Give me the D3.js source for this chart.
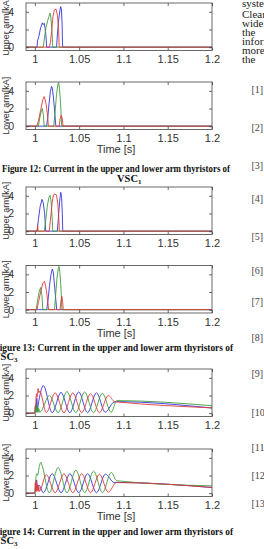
<!DOCTYPE html>
<html>
<head>
<meta charset="utf-8">
<script src="https://cdn.jsdelivr.net/npm/d3@7/dist/d3.min.js"></script>
<style>
  body { margin: 0; background: #fff; overflow: hidden; }
  svg { display: block; }
</style>
</head>
<body>
<div id="page"></div>
<script>
// axis ticks
const xTicks = [1, 1.05, 1.1, 1.15, 1.2];
const xTickLabels = ["1", "1.05", "1.1", "1.15", "1.2"];
const yTicks = [0, 2, 4];
const yTickLabels = ["0", "2", "4"];

// Figure 12 - VSC1 (time [s], current [kA])
const up1Blue = [[0.99,0],[1.0025,0],[1.003,0.7],[1.0045,1.2],[1.0065,2.2],[1.0085,2.75],[1.0095,2.55],[1.0105,2.7],[1.0115,2.2],[1.0127,1.1],[1.0133,0],[1.0245,0],[1.0255,1.5],[1.027,3.2],[1.0284,4.2],[1.0292,4.6],[1.03,4.2],[1.0308,2.5],[1.0312,0.5],[1.0315,0],[1.2,0]];
const up1Green = [[0.99,0],[1.0095,0],[1.0105,0.8],[1.0125,2.2],[1.0145,3.0],[1.016,3.5],[1.0171,3.85],[1.018,3.4],[1.0192,2.0],[1.02,0.5],[1.0203,0],[1.2,0]];
const up1Red = [[0.99,0],[1.0165,0],[1.0175,0.5],[1.019,1.8],[1.0205,3.5],[1.022,4.2],[1.024,4.3],[1.0255,3.6],[1.0268,2.0],[1.0275,0],[1.2,0]];
const lo1Blue = [[0.99,0],[1.0132,0],[1.0145,0.9],[1.016,2.5],[1.0175,3.9],[1.0188,4.5],[1.0198,4.3],[1.021,3.2],[1.0225,1.5],[1.0237,0],[1.2,0]];
const lo1Green = [[0.99,0],[1.004,0],[1.0055,0.9],[1.007,1.6],[1.0085,2.0],[1.0097,1.2],[1.0105,0],[1.0214,0],[1.0228,1.6],[1.0245,3.6],[1.026,4.7],[1.0268,4.95],[1.0278,4.3],[1.029,2.6],[1.0298,1.0],[1.0303,0],[1.2,0]];
const lo1Red = [[0.99,0],[1.0021,0],[1.004,0.6],[1.0065,1.8],[1.009,3.0],[1.0105,3.35],[1.0113,3.1],[1.0127,2.5],[1.0145,1.1],[1.0152,0],[1.0275,0],[1.0285,0.8],[1.0298,1.25],[1.031,0.8],[1.0318,0],[1.2,0]];

// Figure 13 - VSC2
const up2Blue = [[0.99,0],[1.0024,0],[1.004,1.3],[1.006,2.8],[1.0081,3.6],[1.0095,3.2],[1.011,2.0],[1.0123,0],[1.0254,0],[1.0265,1.4],[1.028,3.4],[1.0292,4.4],[1.0302,3.8],[1.031,2.0],[1.0315,0],[1.2,0]];
const up2Green = [[0.99,0],[1.0107,0],[1.012,1.0],[1.014,2.8],[1.0158,3.8],[1.0171,4.05],[1.0182,3.5],[1.0195,1.6],[1.0202,0],[1.2,0]];
const up2Red = [[0.99,0],[1.0028,0],[1.0032,0.6],[1.0036,0],[1.0163,0],[1.0175,1.2],[1.0195,3.2],[1.021,4.1],[1.0225,4.2],[1.0245,4.1],[1.026,3.0],[1.0272,1.2],[1.0276,0],[1.2,0]];
const lo2Blue = [[0.99,0],[1.0134,0],[1.0148,1.0],[1.0165,2.7],[1.0182,4.0],[1.0197,4.6],[1.0207,4.3],[1.022,3.0],[1.0235,1.3],[1.0247,0],[1.2,0]];
const lo2Green = [[0.99,0],[1.0015,0],[1.003,1.0],[1.005,2.1],[1.0065,2.5],[1.008,1.6],[1.009,0],[1.0222,0],[1.0235,1.7],[1.025,3.6],[1.0265,4.7],[1.0273,4.9],[1.0283,4.2],[1.0295,2.4],[1.0305,0],[1.2,0]];
const lo2Red = [[0.99,0],[1.0024,0],[1.004,0.8],[1.0065,2.0],[1.009,3.0],[1.0107,3.2],[1.0118,2.9],[1.013,2.2],[1.0145,1.0],[1.0155,0],[1.0284,0],[1.0295,1.0],[1.0305,1.5],[1.0315,0.8],[1.032,0],[1.2,0]];

// Figure 14 - VSC3
const up3Blue = [[0.99,0],[1.0,0],[1.0008,0.9],[1.0015,0.2],[1.0022,1.7],[1.003,0.5],[1.0045,1.4],[1.0096,3.1],[1.0196,0.05],[1.0295,2.35],[1.0395,0.05],[1.0495,2.4],[1.0595,0.05],[1.0695,2.3],[1.0795,0.1],[1.0885,1.2],[1.092,1.3],[1.2,0.58]];
const up3Green = [[0.99,0],[1.0,0],[1.0005,0.8],[1.001,0.1],[1.0015,0.9],[1.002,0.1],[1.0025,0.8],[1.003,0.1],[1.0035,0.6],[1.004,0.1],[1.0045,0.5],[1.0055,0.1],[1.0165,2.0],[1.0263,0.05],[1.0362,2.45],[1.0462,0.05],[1.0562,2.4],[1.0662,0.05],[1.0762,2.25],[1.0862,0.1],[1.0925,1.42],[1.2,0.84]];
const up3Red = [[0.99,0],[1.0,0],[1.001,1.2],[1.0018,2.2],[1.0025,1.8],[1.0037,2.8],[1.0045,2.3],[1.0055,2.5],[1.0129,0.05],[1.0229,2.3],[1.0329,0.05],[1.0429,2.3],[1.0529,0.05],[1.0629,2.2],[1.0729,0.05],[1.0829,2.0],[1.09,1.3],[1.092,1.28],[1.2,0.6]];
const lo3Blue = [[0.99,0],[1.0,0],[1.001,0.8],[1.002,1.5],[1.003,0.6],[1.0045,0.9],[1.0096,0.05],[1.0196,2.2],[1.0296,0.05],[1.0396,2.2],[1.0496,0.05],[1.0596,2.2],[1.0696,0.05],[1.0796,2.15],[1.0896,1.2],[1.0925,1.22],[1.2,0.63]];
const lo3Green = [[0.99,0],[1.0,0],[1.001,1.5],[1.002,2.2],[1.003,2.0],[1.005,3.0],[1.0068,3.5],[1.008,3.2],[1.0163,0.05],[1.0263,2.9],[1.0363,0.05],[1.0463,2.6],[1.0563,0.05],[1.0663,2.5],[1.0763,0.05],[1.0863,2.35],[1.0925,1.4],[1.2,0.82]];
const lo3Red = [[0.99,0],[1.0,0],[1.0005,1.2],[1.001,0.3],[1.0015,1.4],[1.002,0.2],[1.0025,1.0],[1.003,0.3],[1.0035,0.9],[1.004,0.2],[1.0045,0.7],[1.005,0.2],[1.0129,2.1],[1.0229,0.05],[1.0329,2.2],[1.0429,0.05],[1.0529,2.2],[1.0629,0.05],[1.0729,2.15],[1.0829,0.1],[1.092,1.2],[1.2,0.65]];

const panels = [
  { top: 3,   ylabel: "Upper arm[kA]", series: [up1Blue, up1Green, up1Red], time: false, smooth: false },
  { top: 82,  ylabel: "Lower arm[kA]", series: [lo1Blue, lo1Green, lo1Red], time: true,  smooth: false },
  { top: 187, ylabel: "Upper arm[kA]", series: [up2Blue, up2Green, up2Red], time: false, smooth: false },
  { top: 265.5, ylabel: "Lower arm[kA]", series: [lo2Blue, lo2Green, lo2Red], time: true, smooth: false },
  { top: 369, ylabel: "Upper arm[kA]", series: [up3Blue, up3Green, up3Red], time: false, smooth: true },
  { top: 449, ylabel: "Lower arm[kA]", series: [lo3Blue, lo3Green, lo3Red], time: true,  smooth: true }
];

const captions = [
  { y: 171.5, x: 2, len: 228, text: "Figure 12: Current in the upper and lower arm thyristors of", sub: "1", subY: 182, subX: 117 },
  { y: 351, x: -6, len: 239, text: "Figure 13: Current in the upper and lower arm thyristors of", sub: "3", subY: 359.5, subX: -7 },
  { y: 534.5, x: -6, len: 239, text: "Figure 14: Current in the upper and lower arm thyristors of", sub: "3", subY: 543.5, subX: -7 }
];

// right column of the page (cut off)
const bodyWords = ["system", "Clearly", "wide", "the", "information", "more", "the"];
const bodyY = [7, 18, 27, 36, 45, 54, 62.5];
const refLabels = ["[1]", "[2]", "[3]", "[4]", "[5]", "[6]", "[7]", "[8]", "[9]", "[10]", "[11]", "[12]", "[13]"];
const refY = [89, 127, 165, 198, 236, 270, 301, 337, 373, 412, 447, 475, 503];

const colors = ["#3333dd", "#3d9d3d", "#e23a3a"];
const W = 264, H = 549;
const left = 26, right = 212, plotH = 47.5;
const sans = "Liberation Sans, Arial, sans-serif";
const serif = "Liberation Serif, Times New Roman, serif";

const svg = d3.select("#page").append("svg")
  .attr("width", W).attr("height", H);

const x = d3.scaleLinear().domain([0.99, 1.2]).range([left, right]);

panels.forEach(p => {
  const y = d3.scaleLinear().domain([-0.38, 5.0]).range([p.top + plotH, p.top]);
  const g = svg.append("g");
  const bottom = p.top + plotH;

  const clipId = "clip" + Math.round(p.top);
  g.append("clipPath").attr("id", clipId)
    .append("rect").attr("x", left).attr("y", p.top).attr("width", right - left).attr("height", plotH);

  const line = d3.line()
    .x(d => x(d[0])).y(d => y(d[1]))
    .curve(p.smooth ? d3.curveMonotoneX : d3.curveLinear);

  const lines = g.append("g").attr("clip-path", `url(#${clipId})`);
  p.series.forEach((s, i) => {
    lines.append("path")
      .attr("d", line(s))
      .attr("fill", "none")
      .attr("stroke", colors[i])
      .attr("stroke-width", 0.9);
  });

  // axes with inward ticks
  const ax = d3.axisBottom(x).tickValues(xTicks).tickFormat((d, i) => xTickLabels[i]).tickSize(-3).tickPadding(5);
  const axTop = d3.axisTop(x).tickValues(xTicks).tickFormat("").tickSize(-3);
  const ay = d3.axisLeft(y).tickValues(yTicks).tickFormat((d, i) => yTickLabels[i]).tickSize(-3).tickPadding(12);
  const ayR = d3.axisRight(y).tickValues(yTicks).tickFormat("").tickSize(-3);

  g.append("g").attr("transform", `translate(0,${bottom})`).call(ax);
  g.append("g").attr("transform", `translate(0,${p.top})`).call(axTop);
  const gy = g.append("g").attr("transform", `translate(${left},0)`).call(ay);
  g.append("g").attr("transform", `translate(${right},0)`).call(ayR);
  g.selectAll(".domain").remove();
  g.selectAll(".tick line").attr("stroke", "#444").attr("stroke-width", 0.8);
  g.selectAll(".tick text").attr("font-family", sans)
    .attr("font-size", 11).attr("fill", "#333");
  gy.selectAll(".tick text").attr("font-size", 10.5);

  g.append("rect")
    .attr("x", left).attr("y", p.top)
    .attr("width", right - left).attr("height", plotH)
    .attr("fill", "none").attr("stroke", "#444").attr("stroke-width", 0.8);

  g.append("text")
    .attr("transform", `translate(8.5,${p.top + plotH / 2}) rotate(-90)`)
    .attr("text-anchor", "middle")
    .attr("font-family", sans)
    .attr("font-size", 9).attr("fill", "#333")
    .text(p.ylabel);

  if (p.time) {
    g.append("text")
      .attr("x", (left + right) / 2 - 3).attr("y", bottom + 23.5)
      .attr("text-anchor", "middle")
      .attr("font-family", sans)
      .attr("font-size", 11).attr("fill", "#333")
      .text("Time [s]");
  }
});

captions.forEach(c => {
  svg.append("text")
    .attr("x", c.x).attr("y", c.y)
    .attr("textLength", c.len).attr("lengthAdjust", "spacingAndGlyphs")
    .attr("font-family", serif)
    .attr("font-weight", "bold").attr("font-size", 10.5).attr("fill", "#111")
    .text(c.text);
  const t = svg.append("text")
    .attr("x", c.subX).attr("y", c.subY)
    .attr("font-family", serif)
    .attr("font-weight", "bold").attr("font-size", 10.5).attr("fill", "#111");
  t.append("tspan").text("VSC");
  t.append("tspan").attr("font-size", 7).attr("dy", 2).text(c.sub);
});

bodyWords.forEach((w, i) => {
  svg.append("text")
    .attr("x", 242).attr("y", bodyY[i])
    .attr("font-family", serif)
    .attr("font-size", 11).attr("fill", "#222")
    .text(w);
});

refLabels.forEach((r, i) => {
  svg.append("text")
    .attr("x", 251.5).attr("y", refY[i] + 3.5)
    .attr("font-family", serif)
    .attr("font-size", 10).attr("fill", "#444")
    .text(r);
});
</script>
</body>
</html>
